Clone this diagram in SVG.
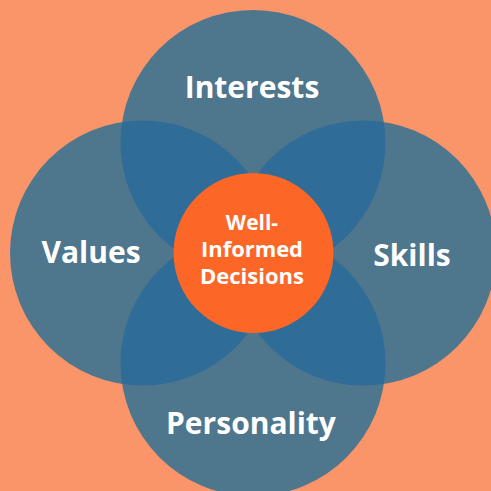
<svg xmlns="http://www.w3.org/2000/svg" width="491" height="491" viewBox="0 0 491 491">
  <style>
    .petal { fill: #4E768D; }
    .lens { fill: #2F6C98; }
    .label { fill: #FFFFFF; font-family: "Open Sans", "Noto Sans", sans-serif; font-weight: 700; text-anchor: middle; }
    .big { font-size: 30px; }
    .small { font-size: 21px; }
  </style>
  <defs>
    <clipPath id="clipTop"><circle cx="253" cy="142.5" r="132.5"/></clipPath>
    <clipPath id="clipBottom"><circle cx="253" cy="363.5" r="132.5"/></clipPath>
  </defs>
  <rect width="491" height="491" fill="#FA956A"/>
  <g id="interests">
    <circle class="petal" cx="253" cy="142.5" r="132.5"/>
  </g>
  <g id="values">
    <circle class="petal" cx="142.5" cy="253" r="132.5"/>
  </g>
  <g id="skills">
    <circle class="petal" cx="363.5" cy="253" r="132.5"/>
  </g>
  <g id="personality">
    <circle class="petal" cx="253" cy="363.5" r="132.5"/>
  </g>
  <g id="overlaps">
    <circle class="lens" cx="142.5" cy="253" r="132.5" clip-path="url(#clipTop)"/>
    <circle class="lens" cx="363.5" cy="253" r="132.5" clip-path="url(#clipTop)"/>
    <circle class="lens" cx="142.5" cy="253" r="132.5" clip-path="url(#clipBottom)"/>
    <circle class="lens" cx="363.5" cy="253" r="132.5" clip-path="url(#clipBottom)"/>
  </g>
  <g id="center">
    <circle cx="253.5" cy="253" r="80" fill="#FC6727"/>
    <text class="label small" x="252" y="230">Well-</text>
    <text class="label small" x="252" y="257" textLength="102" lengthAdjust="spacingAndGlyphs">Informed</text>
    <text class="label small" x="252" y="284" textLength="104" lengthAdjust="spacingAndGlyphs">Decisions</text>
  </g>
  <g id="labels">
    <text class="label big" x="252" y="98">Interests</text>
    <text class="label big" x="91" y="263">Values</text>
    <text class="label big" x="412" y="266">Skills</text>
    <text class="label big" x="251" y="434">Personality</text>
  </g>
  <g id="connectors"/>
</svg>
